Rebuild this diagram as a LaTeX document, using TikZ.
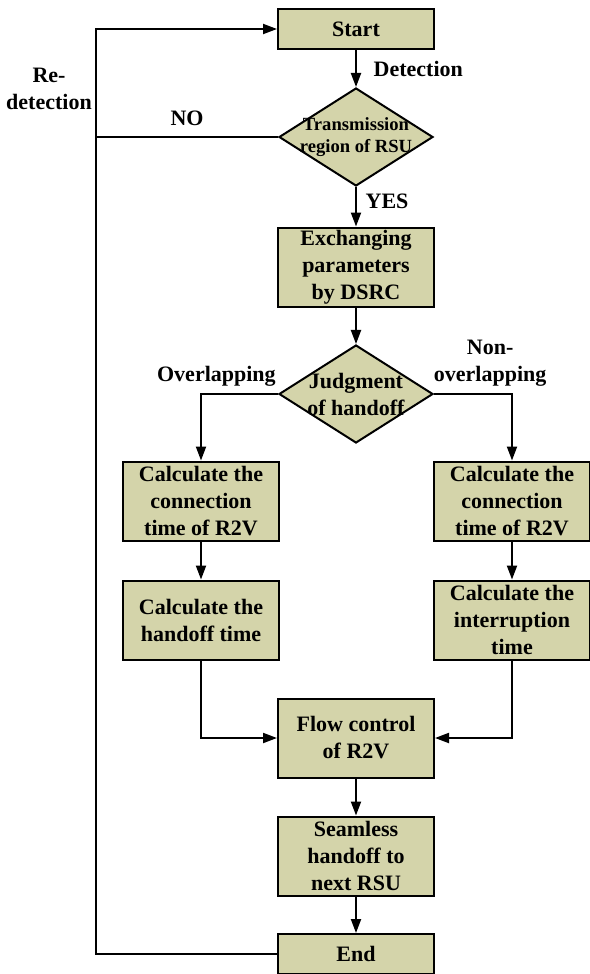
\documentclass[tikz,border=0pt]{standalone}
\usepackage{fontspec}
\setmainfont{Liberation Serif}
\usetikzlibrary{shapes.geometric,arrows.meta}
\definecolor{boxfill}{RGB}{212,212,170}
\begin{document}
\begin{tikzpicture}[x=.5pt, y=-.5pt,
    every node/.style={font=\bfseries\fontsize{11}{13.5}\selectfont, align=center},
    box/.style={draw, line width=1pt, fill=boxfill, minimum width=78pt, minimum height=39.5pt, inner sep=1pt},
    smallbox/.style={box, minimum height=20pt},
    decision/.style={diamond, draw, line width=1pt, fill=boxfill, minimum width=77pt, minimum height=49pt, inner sep=0pt},
    flow/.style={line width=1pt, -{Triangle[length=7pt, width=5pt]}},
    link/.style={line width=1pt}]
    \useasboundingbox (0,0) rectangle (589,974);
    \node[smallbox] (start) at (356,29) {Start};
    \node[decision, label={[font=\bfseries\fontsize{9.3}{11}\selectfont]center:Transmission\\region of RSU}] (dec1) at (356,137) {};
    \node[box] (exch) at (356,267) {Exchanging\\parameters\\by DSRC};
    \node[decision, label={center:Judgment\\of handoff}] (dec2) at (356,394) {};
    \node[box] (lconn) at (201,501) {Calculate the\\connection\\time of R2V};
    \node[box] (lhand) at (201,620) {Calculate the\\handoff time};
    \node[box] (rconn) at (512,501) {Calculate the\\connection\\time of R2V};
    \node[box] (rintr) at (512,620) {Calculate the\\interruption\\time};
    \node[box] (flow) at (356,738) {Flow control\\of R2V};
    \node[box] (seam) at (356,856) {Seamless\\handoff to\\next RSU};
    \node[smallbox] (end) at (356,954) {End};
    \node (redet) at (49,89) {Re-\\detection};
    \coordinate (loop) at (96,0);

    \draw[flow] (start) -- node[right=5pt]{Detection} (dec1);
    \draw[flow] (dec1) -- node[pos=.35, right=1pt]{YES} (exch);
    \draw[link] (dec1.west) -- node[above=2pt]{NO} (dec1.west -| loop);
    \draw[flow] (exch) -- (dec2);
    \draw[flow] (dec2.west) -| node[pos=.4, above]{Overlapping} (lconn);
    \draw[flow] (dec2.east) -| node[pos=.36, above]{Non-\\overlapping} (rconn);
    \draw[flow] (lconn) -- (lhand);
    \draw[flow] (rconn) -- (rintr);
    \draw[flow] (lhand) |- (flow);
    \draw[flow] (rintr) |- (flow);
    \draw[flow] (flow) -- (seam);
    \draw[flow] (seam) -- (end);
    \draw[flow] (end.west) -- (end.west -| loop) -- (start.west -| loop) -- (start.west);
  \end{tikzpicture}
\end{document}
